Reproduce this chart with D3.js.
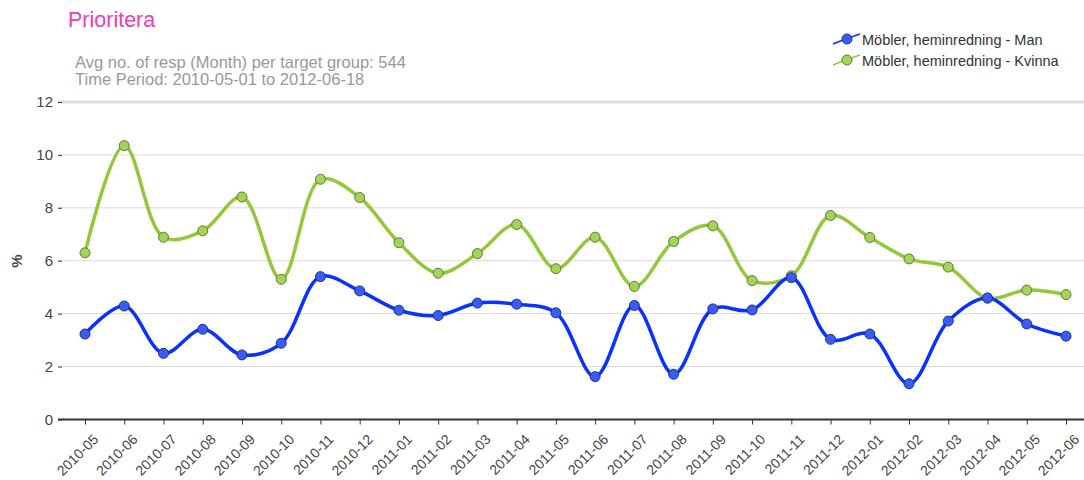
<!DOCTYPE html>
<html>
<head>
<meta charset="utf-8">
<script src="https://cdn.jsdelivr.net/npm/d3@7"></script>
<style>
	body { margin: 0; background: #fff; }
	svg { font-family: "Liberation Sans", Arial, sans-serif; }
</style>
</head>
<body>
<svg id="chart" width="1084" height="480"></svg>
<script>
// months along the x axis
var months = ['2010-05','2010-06','2010-07','2010-08','2010-09','2010-10','2010-11','2010-12',
	'2011-01','2011-02','2011-03','2011-04','2011-05','2011-06','2011-07','2011-08','2011-09',
	'2011-10','2011-11','2011-12','2012-01','2012-02','2012-03','2012-04','2012-05','2012-06'];

var manValues = [3.23, 4.29, 2.50, 3.41, 2.44, 2.88, 5.40, 4.86, 4.13, 3.93, 4.40, 4.36, 4.03,
	1.62, 4.31, 1.71, 4.18, 4.14, 5.36, 3.03, 3.23, 1.35, 3.72, 4.59, 3.61, 3.15];

var kvinnaValues = [6.30, 10.35, 6.89, 7.13, 8.41, 5.30, 9.08, 8.39, 6.68, 5.53, 6.27, 7.37, 5.70,
	6.89, 5.03, 6.73, 7.32, 5.25, 5.43, 7.71, 6.88, 6.07, 5.76, 4.59, 4.89, 4.72];

var yTicks = [0, 2, 4, 6, 8, 10, 12];

var seriesList = [
	{ name: 'Möbler, heminredning - Man', values: manValues, line: '#0a32ff', fill: '#3b5cf2', stroke: '#1c2f9a' },
	{ name: 'Möbler, heminredning - Kvinna', values: kvinnaValues, line: '#93c83a', fill: '#a5d15e', stroke: '#5c7d24' }
];

var svg = d3.select('#chart');

var plotLeft = 58, plotRight = 1084, plotTop = 102, plotBottom = 419.5;

var x = d3.scalePoint()
	.domain(months)
	.range([85, 1066]);

var y = d3.scaleLinear()
	.domain([0, 12])
	.range([plotBottom, plotTop]);

// title and subtitle
svg.append('text')
	.attr('x', 68).attr('y', 27)
	.attr('fill', '#f03cb4')
	.attr('font-size', 21.5)
	.text('Prioritera');

svg.append('text')
	.attr('x', 75).attr('y', 68)
	.attr('fill', '#999')
	.attr('font-size', 16.5)
	.text('Avg no. of resp (Month) per target group: 544');

svg.append('text')
	.attr('x', 75).attr('y', 85)
	.attr('fill', '#999')
	.attr('font-size', 16.5)
	.text('Time Period: 2010-05-01 to 2012-06-18');

// gridlines
svg.append('g')
	.selectAll('line')
	.data(yTicks.filter(function(d) { return d > 0; }))
	.enter()
	.append('line')
	.attr('x1', plotLeft).attr('x2', plotRight)
	.attr('y1', function(d) { return y(d); })
	.attr('y2', function(d) { return y(d); })
	.attr('stroke', function(d) { return d == 12 ? '#dcdcdc' : '#d9d9d9'; })
	.attr('stroke-width', function(d) { return d == 12 ? 3 : 1; });

// y axis
var yAxis = svg.append('g')
	.attr('transform', 'translate(' + (plotLeft + 4) + ',0)')
	.call(d3.axisLeft(y).tickValues(yTicks).tickSize(4).tickPadding(5));
yAxis.select('.domain').remove();
yAxis.selectAll('line').attr('stroke', '#444');
yAxis.selectAll('text')
	.attr('fill', '#444')
	.attr('font-size', 15)
	.attr('font-family', '"Liberation Sans", Arial, sans-serif');

svg.append('text')
	.attr('transform', 'translate(22,261) rotate(-90)')
	.attr('text-anchor', 'middle')
	.attr('fill', '#444')
	.attr('font-size', 15)
	.attr('font-weight', 'bold')
	.text('%');

// x axis
var xAxis = svg.append('g')
	.attr('transform', 'translate(0,' + plotBottom + ')')
	.call(d3.axisBottom(x).tickSize(5).tickSizeOuter(0));
xAxis.select('.domain').remove();
xAxis.selectAll('line').attr('stroke', '#333');
xAxis.selectAll('text')
	.attr('fill', '#444')
	.attr('font-size', 14)
	.attr('font-family', '"Liberation Sans", Arial, sans-serif')
	.attr('text-anchor', 'end')
	.attr('dy', null)
	.attr('transform', 'translate(8,15) rotate(-45)');

svg.append('line')
	.attr('x1', plotLeft).attr('x2', plotRight)
	.attr('y1', plotBottom).attr('y2', plotBottom)
	.attr('stroke', '#333')
	.attr('stroke-width', 2);

// lines and markers
var line = d3.line()
	.x(function(d, i) { return x(months[i]); })
	.y(function(d) { return y(d); })
	.curve(d3.curveCatmullRom.alpha(0.5));

seriesList.slice().reverse().forEach(function(s) {
	svg.append('path')
		.datum(s.values)
		.attr('d', line)
		.attr('fill', 'none')
		.attr('stroke', s.line)
		.attr('stroke-width', 3.5);
});

seriesList.slice().reverse().forEach(function(s) {
	svg.append('g')
		.selectAll('circle')
		.data(s.values)
		.enter()
		.append('circle')
		.attr('cx', function(d, i) { return x(months[i]); })
		.attr('cy', function(d) { return y(d); })
		.attr('r', 5)
		.attr('fill', s.fill)
		.attr('stroke', s.stroke)
		.attr('stroke-width', 1);
});

// legend
var legend = svg.append('g')
	.selectAll('g')
	.data(seriesList)
	.enter()
	.append('g')
	.attr('transform', function(d, i) { return 'translate(833,' + (39 + i * 21) + ')'; });

legend.append('path')
	.attr('d', 'M0,5 Q14,-1 27,-5')
	.attr('fill', 'none')
	.attr('stroke', function(d) { return d.line; })
	.attr('stroke-width', 1.5);

legend.append('circle')
	.attr('cx', 14).attr('cy', 0)
	.attr('r', 5)
	.attr('fill', function(d) { return d.fill; })
	.attr('stroke', function(d) { return d.stroke; })
	.attr('stroke-width', 1);

legend.append('text')
	.attr('x', 29).attr('y', 6)
	.attr('fill', '#333')
	.attr('font-size', 14.5)
	.text(function(d) { return d.name; });
</script>
</body>
</html>
